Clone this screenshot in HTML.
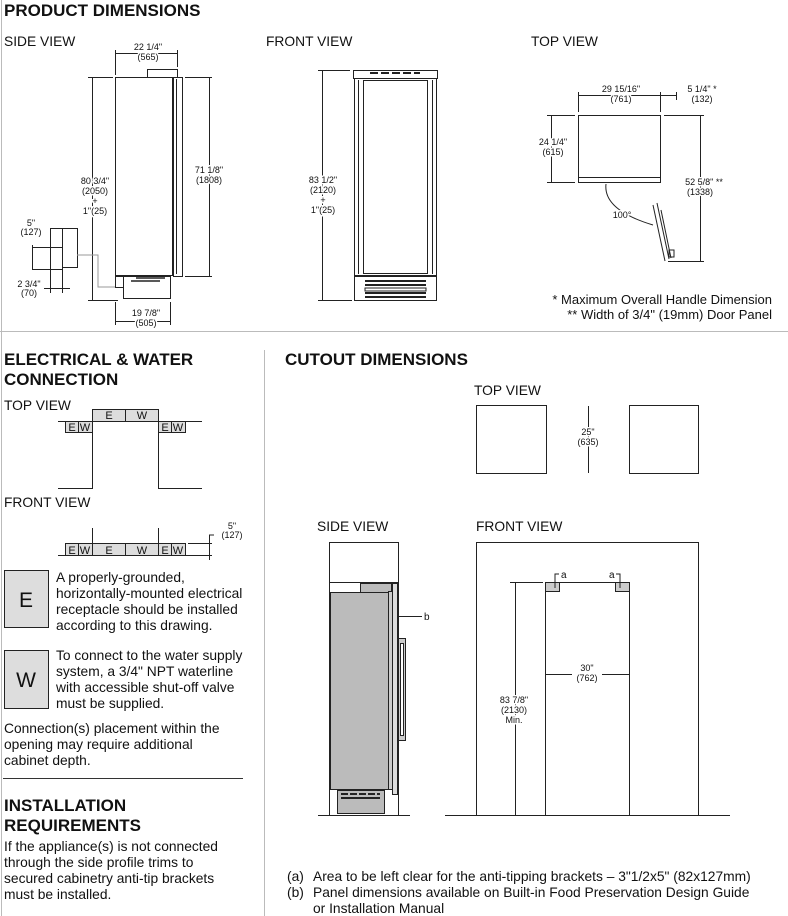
<!DOCTYPE html>
<html><head><meta charset="utf-8"><style>
html,body{margin:0;padding:0;background:#fff}
svg{display:block}
text{font-family:"Liberation Sans",Arial,sans-serif;fill:#111}
.h{font-weight:bold;font-size:17px}
.l{font-size:13.8px}
.s{font-size:9px;text-anchor:middle;paint-order:stroke;stroke:#fff;stroke-width:3px}
.b{font-size:13.8px}
.f{font-size:13.8px}
</style></head><body>
<svg width="788" height="916" viewBox="0 0 788 916" xmlns="http://www.w3.org/2000/svg">
<g stroke="#bbb" stroke-width="1" fill="none">
<line x1="1.5" y1="0" x2="1.5" y2="916"/>
<line x1="0" y1="331.5" x2="788" y2="331.5"/>
<line x1="264.5" y1="350" x2="264.5" y2="916"/>
</g>
<line x1="3" y1="778.5" x2="243" y2="778.5" stroke="#333"/>

<text x="4" y="16" class="h">PRODUCT DIMENSIONS</text>
<text x="4" y="46" class="l">SIDE VIEW</text>
<text x="266" y="46" class="l">FRONT VIEW</text>
<text x="531" y="46" class="l">TOP VIEW</text>

<!-- side view -->
<g stroke="#222" fill="none" stroke-width="1">
<rect x="115.5" y="77.5" width="57" height="198"/>
<rect x="147.5" y="69.5" width="30" height="8"/>
<rect x="173.5" y="77.5" width="9" height="199"/>
<line x1="176.5" y1="79" x2="176.5" y2="274"/>
<rect x="123.5" y="276.5" width="47" height="22"/>
<rect x="115.5" y="276.5" width="8" height="11"/>
<line x1="115" y1="53.5" x2="177" y2="53.5"/>
<line x1="115.5" y1="50" x2="115.5" y2="75"/><line x1="177.5" y1="50" x2="177.5" y2="67"/>
<line x1="92.5" y1="77" x2="92.5" y2="300"/>
<line x1="88" y1="77.5" x2="113" y2="77.5"/><line x1="88" y1="300.5" x2="118" y2="300.5"/>
<line x1="209.5" y1="77" x2="209.5" y2="276"/>
<line x1="185" y1="77.5" x2="212" y2="77.5"/><line x1="185" y1="276.5" x2="212" y2="276.5"/>
<line x1="115" y1="321.5" x2="170" y2="321.5"/>
<line x1="115.5" y1="302" x2="115.5" y2="325"/><line x1="170.5" y1="302" x2="170.5" y2="325"/>
<rect x="50.5" y="228.5" width="12" height="19"/>
<rect x="62.5" y="228.5" width="15" height="39"/>
<line x1="32" y1="247.5" x2="50" y2="247.5"/><line x1="32" y1="269.5" x2="62" y2="269.5"/>
<line x1="32.5" y1="245" x2="32.5" y2="270"/>
<line x1="50.5" y1="248" x2="50.5" y2="293"/><line x1="62.5" y1="268" x2="62.5" y2="293"/>
<line x1="44" y1="288.5" x2="70" y2="288.5"/>
</g>
<polyline points="77,255 98,255 98,287 115,287" stroke="#999" fill="none"/>
<g stroke="#222" stroke-width="1.5"><line x1="136" y1="278" x2="165" y2="278"/><line x1="131" y1="281" x2="160" y2="281"/></g>
<text x="148" y="50" class="s">22 1/4"</text><text x="148" y="60" class="s">(565)</text>
<text x="95" y="184" class="s">80 3/4"</text><text x="95" y="194" class="s">(2050)</text><text x="95" y="204" class="s">+</text><text x="95" y="214" class="s">1"(25)</text>
<text x="209" y="173" class="s">71 1/8"</text><text x="209" y="183" class="s">(1808)</text>
<text x="146" y="316" class="s">19 7/8"</text><text x="146" y="326" class="s">(505)</text>
<text x="31" y="226" class="s">5"</text><text x="31" y="235" class="s">(127)</text>
<text x="29" y="287" class="s">2 3/4"</text><text x="29" y="296" class="s">(70)</text>

<!-- front view -->
<g stroke="#222" fill="none">
<rect x="353.5" y="70.5" width="84" height="8"/>
<rect x="354.5" y="78.5" width="82" height="197"/>
<rect x="363.5" y="80.5" width="64" height="193"/>
<line x1="358.5" y1="80" x2="358.5" y2="274"/><line x1="432.5" y1="80" x2="432.5" y2="274"/>
<rect x="354.5" y="276.5" width="82" height="24"/>
<line x1="322.5" y1="70" x2="322.5" y2="300"/>
<line x1="318" y1="70.5" x2="350" y2="70.5"/><line x1="318" y1="300.5" x2="352" y2="300.5"/>
</g>
<g stroke="#222" stroke-width="2">
<line x1="370" y1="73" x2="420" y2="73" stroke-dasharray="8 3"/>
<line x1="365" y1="281" x2="426" y2="281"/><line x1="365" y1="285" x2="426" y2="285"/>
<line x1="365" y1="293" x2="426" y2="293"/><line x1="365" y1="297" x2="426" y2="297"/>
</g>
<rect x="365" y="288" width="61" height="3" fill="none" stroke="#222"/>
<text x="323" y="183" class="s">83 1/2"</text><text x="323" y="193" class="s">(2120)</text><text x="323" y="203" class="s">+</text><text x="323" y="213" class="s">1"(25)</text>

<!-- top view -->
<g stroke="#222" fill="none">
<rect x="578.5" y="115.5" width="82" height="62"/>
<rect x="578.5" y="177.5" width="82" height="5"/>
<line x1="578" y1="95.5" x2="660" y2="95.5"/><line x1="660" y1="95.5" x2="676" y2="95.5"/>
<line x1="578.5" y1="92" x2="578.5" y2="112"/><line x1="660.5" y1="92" x2="660.5" y2="112"/><line x1="676.5" y1="92" x2="676.5" y2="100"/>
<line x1="551.5" y1="115" x2="551.5" y2="182"/>
<line x1="547" y1="115.5" x2="575" y2="115.5"/><line x1="547" y1="182.5" x2="575" y2="182.5"/>
<line x1="700.5" y1="115" x2="700.5" y2="261"/>
<line x1="664" y1="115.5" x2="704" y2="115.5"/><line x1="668" y1="261.5" x2="704" y2="261.5"/>
<line x1="653" y1="205" x2="665" y2="261"/><line x1="657" y1="203" x2="669" y2="259"/><line x1="661" y1="210" x2="671" y2="258"/>
<rect x="669" y="250" width="5" height="7"/>
<path d="M606 184 Q603 210 653 225"/>
</g>
<text x="621" y="92" class="s">29 15/16"</text><text x="621" y="102" class="s">(761)</text>
<text x="702" y="92" class="s">5 1/4"  *</text><text x="702" y="102" class="s">(132)</text>
<text x="553" y="145" class="s">24 1/4"</text><text x="553" y="155" class="s">(615)</text>
<text x="704" y="185" class="s">52 5/8" **</text><text x="700" y="195" class="s">(1338)</text>
<text x="622" y="218" class="s">100°</text>
<text x="772" y="304" class="l" text-anchor="end" style="font-size:13px">* Maximum Overall Handle Dimension</text>
<text x="772" y="319" class="l" text-anchor="end" style="font-size:13px">** Width of 3/4" (19mm) Door Panel</text>

<!-- electrical -->
<text x="4" y="365" class="h">ELECTRICAL &amp; WATER</text>
<text x="4" y="385" class="h">CONNECTION</text>
<text x="4" y="410" class="l">TOP VIEW</text>
<g stroke="#222" fill="#ddd">
<rect x="92.5" y="409.5" width="33" height="12"/><rect x="125.5" y="409.5" width="33" height="12"/>
<rect x="65.5" y="421.5" width="13" height="11"/><rect x="78.5" y="421.5" width="14" height="11"/>
<rect x="158.5" y="421.5" width="13" height="11"/><rect x="171.5" y="421.5" width="14" height="11"/>
</g>
<g stroke="#222" fill="none">
<polyline points="58,421.5 92.5,421.5 92.5,488.5 58,488.5"/>
<polyline points="202,421.5 158.5,421.5 158.5,488.5 202,488.5"/>
</g>
<g font-size="11" text-anchor="middle"><text x="109" y="419">E</text><text x="142" y="419">W</text>
<text x="72" y="431">E</text><text x="85" y="431">W</text><text x="165" y="431">E</text><text x="178" y="431">W</text></g>
<text x="4" y="507" class="l">FRONT VIEW</text>
<g stroke="#222" fill="#ddd">
<rect x="65.5" y="543.5" width="13" height="12"/><rect x="78.5" y="543.5" width="14" height="12"/>
<rect x="92.5" y="543.5" width="33" height="12"/><rect x="125.5" y="543.5" width="33" height="12"/>
<rect x="158.5" y="543.5" width="13" height="12"/><rect x="171.5" y="543.5" width="14" height="12"/>
</g>
<g stroke="#222" fill="none">
<line x1="58" y1="555.5" x2="212" y2="555.5"/><line x1="92.5" y1="528" x2="92.5" y2="543"/><line x1="158.5" y1="528" x2="158.5" y2="543"/>
<line x1="188" y1="543.5" x2="212" y2="543.5"/>
<polyline points="214,535 209.5,535 209.5,560"/>
</g>
<g font-size="11" text-anchor="middle"><text x="72" y="554">E</text><text x="85" y="554">W</text><text x="109" y="554">E</text><text x="142" y="554">W</text><text x="165" y="554">E</text><text x="178" y="554">W</text></g>
<text x="232" y="529" class="s">5"</text><text x="232" y="538" class="s">(127)</text>

<rect x="4.5" y="570.5" width="44" height="57" fill="#ddd" stroke="#222"/>
<text x="26" y="607" font-size="21" text-anchor="middle">E</text>
<text x="56" y="582" class="b">A properly-grounded,</text>
<text x="56" y="598" class="b">horizontally-mounted electrical</text>
<text x="56" y="614" class="b">receptacle should be installed</text>
<text x="56" y="630" class="b">according to this drawing.</text>
<rect x="4.5" y="650.5" width="44" height="58" fill="#ddd" stroke="#222"/>
<text x="26" y="687" font-size="21" text-anchor="middle">W</text>
<text x="56" y="660" class="b">To connect to the water supply</text>
<text x="56" y="676" class="b">system, a 3/4" NPT waterline</text>
<text x="56" y="692" class="b">with accessible shut-off valve</text>
<text x="56" y="708" class="b">must be supplied.</text>
<text x="4" y="733" class="b">Connection(s) placement within the</text>
<text x="4" y="749" class="b">opening may require additional</text>
<text x="4" y="765" class="b">cabinet depth.</text>
<text x="4" y="811" class="h">INSTALLATION</text>
<text x="4" y="831" class="h">REQUIREMENTS</text>
<text x="4" y="851" class="b">If the appliance(s) is not connected</text>
<text x="4" y="867" class="b">through the side profile trims to</text>
<text x="4" y="883" class="b">secured cabinetry anti-tip brackets</text>
<text x="4" y="899" class="b">must be installed.</text>

<!-- cutout -->
<text x="285" y="365" class="h">CUTOUT DIMENSIONS</text>
<text x="474" y="395" class="l">TOP VIEW</text>
<g stroke="#222" fill="none">
<rect x="476.5" y="405.5" width="70" height="68"/><rect x="629.5" y="405.5" width="69" height="68"/>
<line x1="588.5" y1="406" x2="588.5" y2="473"/>
</g>
<text x="588" y="435" class="s">25"</text><text x="588" y="445" class="s">(635)</text>
<text x="317" y="531" class="l">SIDE VIEW</text>
<text x="476" y="531" class="l">FRONT VIEW</text>
<g stroke="#222">
<rect x="329.5" y="542.5" width="69" height="273" fill="none"/>
<line x1="329" y1="582.5" x2="398" y2="582.5"/>
<rect x="360.5" y="583.5" width="31" height="9" fill="#bbb"/>
<rect x="330.5" y="592.5" width="58" height="197" fill="#bbb"/>
<rect x="388.5" y="591.5" width="4" height="198" fill="#ccc"/>
<rect x="392.5" y="583.5" width="5" height="211" fill="#ddd"/>
<rect x="398.5" y="638.5" width="7" height="102" fill="#ccc"/>
<rect x="400.5" y="643.5" width="3" height="92" fill="#fff"/>
<line x1="398" y1="616.5" x2="422" y2="616.5"/>
<rect x="337.5" y="790.5" width="47" height="23" fill="#bbb"/>
<line x1="318" y1="815.5" x2="410" y2="815.5"/>
<rect x="476.5" y="542.5" width="222" height="273" fill="none"/>
<polyline points="545.5,815 545.5,582.5 629.5,582.5 629.5,815" fill="none"/>
<rect x="545.5" y="582.5" width="14" height="9" fill="#ccc"/>
<rect x="615.5" y="582.5" width="14" height="9" fill="#ccc"/>
<polyline points="555,588 555,574 559,574" fill="none"/><polyline points="620,588 620,574 616,574" fill="none"/>
<line x1="546" y1="674.5" x2="572" y2="674.5"/><line x1="602" y1="674.5" x2="629" y2="674.5"/>
<line x1="515.5" y1="583" x2="515.5" y2="815"/><line x1="510" y1="582.5" x2="543" y2="582.5"/>
<line x1="445" y1="815.5" x2="730" y2="815.5"/>
</g>
<g stroke="#222" stroke-width="2"><line x1="341" y1="794" x2="380" y2="794" stroke-dasharray="7 2"/><line x1="341" y1="798" x2="380" y2="798"/></g>
<text x="424" y="620" font-size="10">b</text>
<text x="561" y="578" font-size="10">a</text><text x="609" y="578" font-size="10">a</text>
<text x="587" y="671" class="s">30"</text><text x="587" y="681" class="s">(762)</text>
<text x="514" y="703" class="s">83 7/8"</text><text x="514" y="713" class="s">(2130)</text><text x="514" y="723" class="s">Min.</text>
<text x="287" y="881" class="f">(a)</text><text x="313" y="881" class="f">Area to be left clear for the anti-tipping brackets – 3"1/2x5" (82x127mm)</text>
<text x="287" y="897" class="f">(b)</text><text x="313" y="897" class="f">Panel dimensions available on Built-in Food Preservation Design Guide</text>
<text x="313" y="913" class="f">or Installation Manual</text>
</svg>
</body></html>
